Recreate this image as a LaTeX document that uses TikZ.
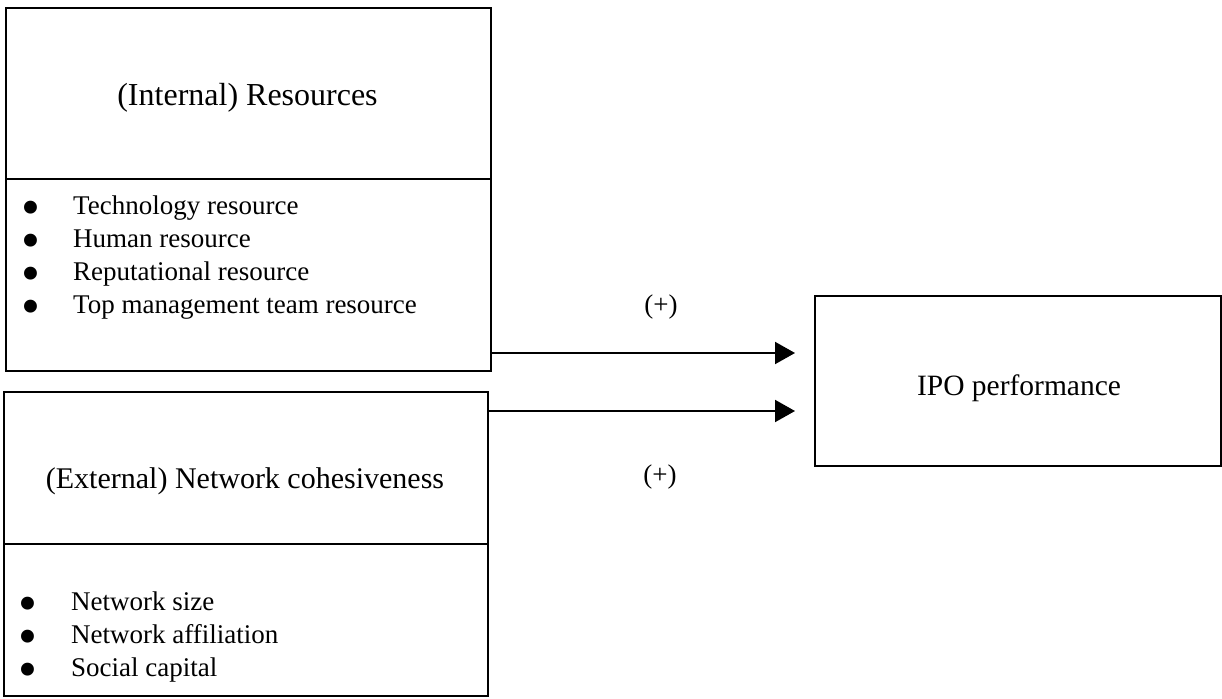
\documentclass[tikz,border=0pt]{standalone}
\usepackage{fontspec}
\usepackage{graphicx}
\setmainfont{Liberation Serif}
\usetikzlibrary{arrows.meta}
% enlarged bullet followed by a fixed indent
\newcommand\bul[2]{\makebox[#2pt][l]{\hspace{#1pt}\smash{\raisebox{-11pt}{\scalebox{2}{•}}}}}
\begin{document}
\begin{tikzpicture}[x=1pt,y=-1pt,
  panel/.style={draw,line width=2pt,rectangle,inner sep=0pt,anchor=north west},
  head/.style={anchor=base,inner sep=0pt,font=\fontsize{30}{36}\selectfont},
  items/.style={anchor=base west,align=left,inner sep=0pt,font=\fontsize{27}{33}\selectfont},
  sign/.style={anchor=base,inner sep=0pt,font=\fontsize{27}{33}\selectfont},
  link/.style={line width=2pt,-{Triangle[length=20pt,width=22pt]}}]
\useasboundingbox (0,0) rectangle (1222,698);

% left column: internal resources
\node[panel,minimum width=485pt,minimum height=171pt] (reshead) at (5,7) {};
\node[panel,minimum width=485pt,minimum height=192pt] (reslist) at (5,178) {};
\node[head,font=\fontsize{32}{38}\selectfont] (restitle) at (247.5,106) {(Internal) Resources};
\node[items] (resitems) at (0,313) {\bul{21.5}{73}Technology resource\\ \bul{21.5}{73}Human resource\\ \bul{21.5}{73}Reputational resource\\ \bul{21.5}{73}Top management team resource};

% left column: external network
\node[panel,minimum width=484pt,minimum height=152pt] (nethead) at (3,391) {};
\node[panel,minimum width=484pt,minimum height=152pt] (netlist) at (3,543) {};
\node[head] (nettitle) at (245,488) {(External) Network cohesiveness};
\node[items] (netitems) at (0,676) {\bul{18}{71}Network size\\ \bul{18}{71}Network affiliation\\ \bul{18}{71}Social capital};

% outcome
\node[panel,minimum width=406pt,minimum height=170pt] (ipo) at (814,295) {};
\node[head,font=\fontsize{29.5}{35}\selectfont] (ipotitle) at (1019,395) {IPO performance};

% effects
\coordinate (t1) at ([xshift=-19pt,yshift=28pt]ipo.west);
\coordinate (t2) at ([xshift=-19pt,yshift=-30pt]ipo.west);
\draw[link] (reslist.east |- t1) -- (t1);
\draw[link] (netlist.east |- t2) -- (t2);
\node[sign] (s1) at (661,313.5) {(+)};
\node[sign] (s2) at (660,483.5) {(+)};
\end{tikzpicture}
\end{document}
